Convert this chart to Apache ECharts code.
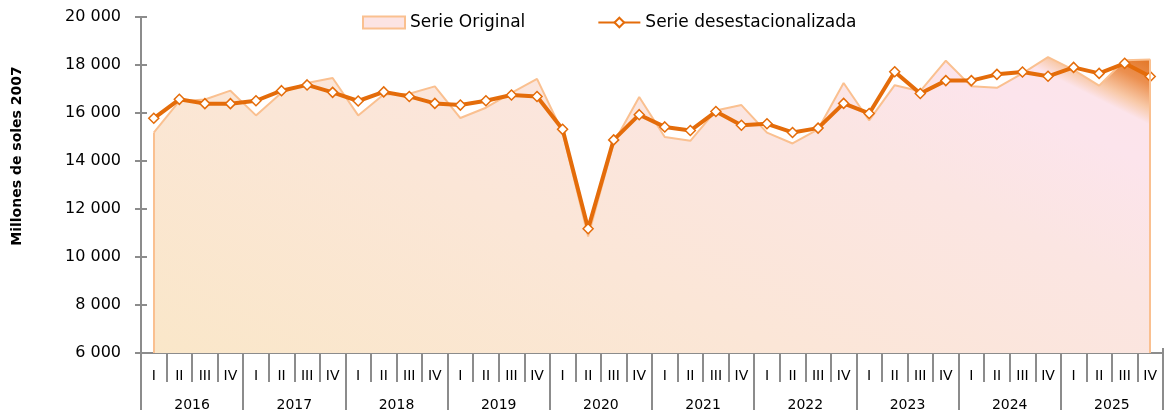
<!DOCTYPE html>
<html>
<head>
<meta charset="utf-8">
<script src="https://cdn.jsdelivr.net/npm/echarts@6/dist/echarts.min.js"></script>
<style>
  html, body { margin: 0; padding: 0; background: #fff; }
  #chart { width: 1169px; height: 412px; }
</style>
</head>
<body>
<div id="chart"></div>
<script>
// quarters per year and years shown
const quarterNames = ['I', 'II', 'III', 'IV'];
const years = ['2016', '2017', '2018', '2019', '2020', '2021', '2022', '2023', '2024', '2025'];

// Serie Original (millones de soles 2007)
const serieOriginal = [
  15180, 16490, 16560, 16930,
  15900, 16840, 17250, 17460,
  15900, 16770, 16800, 17110,
  15790, 16220, 16840, 17420,
  15200, 10850, 14750, 16670,
  15000, 14840, 16100, 16330,
  15180, 14730, 15320, 17250,
  15690, 17160, 16910, 18180,
  17110, 17050, 17650, 18330,
  17800, 17140, 18200, 18230
];

// Serie desestacionalizada
const serieDesest = [
  15780, 16570, 16390, 16390,
  16510, 16930, 17170, 16860,
  16500, 16880, 16690, 16400,
  16330, 16510, 16750, 16690,
  15320, 11180, 14880, 15930,
  15420, 15270, 16060, 15490,
  15550, 15190, 15370, 16400,
  15980, 17720, 16810, 17350,
  17350, 17610, 17710, 17530,
  17900, 17650, 18070, 17520
];

const categories = [];
years.forEach(() => quarterNames.forEach(q => categories.push(q)));

const axisGray = '#8c8c8c';
const font = 'DejaVu Sans';

const chart = echarts.init(document.getElementById('chart'));

// relleno del area: crema abajo-izquierda, rosado, y naranja oscuro en la esquina
const areaFill = new echarts.graphic.LinearGradient(154, 355, 474, -285, [
  { offset: 0, color: '#FAE7C9' },
  { offset: 0.4, color: '#FBE6D7' },
  { offset: 0.7, color: '#FBE5E2' },
  { offset: 0.86, color: '#FCE4EC' },
  { offset: 0.91, color: '#FCE4EB' },
  { offset: 0.93, color: '#F8C9A8' },
  { offset: 0.96, color: '#EC9050' },
  { offset: 1, color: '#E0701C' }
], true);

const last = serieOriginal.length - 1;

chart.setOption({
  animation: false,
  textStyle: { fontFamily: font, color: '#000' },
  grid: { left: 141, right: 6, top: 17, bottom: 57, containLabel: false },
  legend: {
    left: 357,
    top: 9,
    itemWidth: 42,
    itemHeight: 12,
    itemGap: 72,
    textStyle: { fontFamily: font, fontSize: 17, color: '#000' },
    data: [
      {
        name: 'Serie Original',
        icon: 'rect',
        itemStyle: { color: '#FCE4E4', borderColor: '#FAC090', borderWidth: 2 }
      },
      { name: 'Serie desestacionalizada' }
    ]
  },
  graphic: [
    {
      type: 'text',
      x: 17,
      y: 156,
      rotation: Math.PI / 2,
      style: {
        text: 'Millones de soles 2007',
        font: 'bold 14px "DejaVu Sans"',
        fill: '#000',
        align: 'center',
        verticalAlign: 'middle'
      }
    }
  ],
  xAxis: [
    {
      type: 'category',
      data: categories,
      boundaryGap: true,
      axisLine: { show: true, lineStyle: { color: axisGray, width: 2 } },
      axisTick: { show: true, interval: 0, length: 29, lineStyle: { color: axisGray, width: 2 } },
      axisLabel: { interval: 0, margin: 16, fontSize: 14, color: '#000', fontFamily: font }
    },
    {
      type: 'category',
      data: years,
      position: 'bottom',
      boundaryGap: true,
      axisLine: { show: false },
      axisTick: { show: true, interval: 0, length: 57, lineStyle: { color: axisGray, width: 2 } },
      axisLabel: { interval: 0, margin: 45, fontSize: 14, color: '#000', fontFamily: font }
    },
    {
      type: 'category',
      data: categories,
      position: 'bottom',
      boundaryGap: true,
      axisLine: { show: false },
      axisTick: { show: true, inside: true, interval: 0, length: 5, lineStyle: { color: axisGray, width: 2 } },
      axisLabel: { show: false }
    }
  ],
  yAxis: [
    {
      type: 'value',
      position: 'left',
      min: 6000,
      max: 20000,
      interval: 2000,
      axisLine: { show: true, lineStyle: { color: axisGray, width: 2 } },
      axisTick: { show: true, length: 6, lineStyle: { color: axisGray, width: 2 } },
      splitLine: { show: false },
      axisLabel: {
        margin: 20,
        fontSize: 16,
        color: '#000',
        fontFamily: font,
        formatter: v => String(v).replace(/\B(?=(\d{3})+(?!\d))/g, ' ')
      }
    },
    {
      type: 'value',
      position: 'left',
      offset: 0,
      min: 6000,
      max: 20000,
      interval: 2000,
      axisLine: { show: false },
      axisTick: { show: true, inside: true, length: 6, lineStyle: { color: axisGray, width: 2 } },
      splitLine: { show: false },
      axisLabel: { show: false }
    }
  ],
  series: [
    {
      name: 'Serie Original',
      type: 'line',
      data: serieOriginal,
      showSymbol: false,
      symbol: 'none',
      lineStyle: { color: '#FAC090', width: 2 },
      itemStyle: { color: '#FAC090' },
      areaStyle: { color: areaFill, opacity: 1, origin: 'start' },
      markLine: {
        silent: true,
        symbol: 'none',
        label: { show: false },
        lineStyle: { color: '#FAC090', width: 2, type: 'solid' },
        data: [
          [{ coord: [0, 6000] }, { coord: [0, serieOriginal[0]] }],
          [{ coord: [last, 6000] }, { coord: [last, serieOriginal[last]] }]
        ]
      },
      z: 2
    },
    {
      name: 'Serie desestacionalizada',
      type: 'line',
      data: serieDesest,
      symbol: 'diamond',
      symbolSize: 10,
      lineStyle: { color: '#E46C0A', width: 4 },
      itemStyle: { color: '#fff', borderColor: '#E46C0A', borderWidth: 1.5 },
      z: 3
    }
  ]
});
</script>
</body>
</html>
